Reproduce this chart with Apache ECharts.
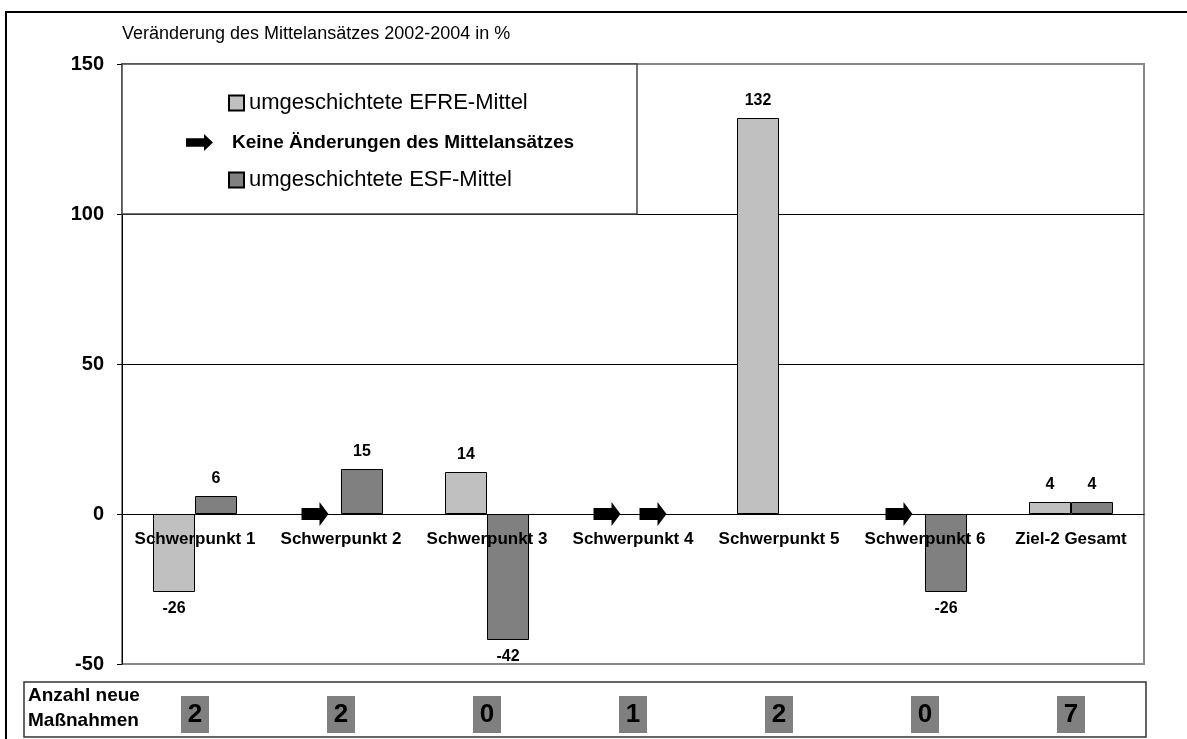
<!DOCTYPE html>
<html>
<head>
<meta charset="utf-8">
<script src="https://cdn.jsdelivr.net/npm/echarts@6/dist/echarts.min.js"></script>
<style>
  html, body { margin: 0; padding: 0; background: #fff; }
  #main { width: 1187px; height: 739px; }
</style>
</head>
<body>
<div id="main"></div>
<script>
var categories = ['Schwerpunkt 1', 'Schwerpunkt 2', 'Schwerpunkt 3', 'Schwerpunkt 4', 'Schwerpunkt 5', 'Schwerpunkt 6', 'Ziel-2 Gesamt'];
var efre = [-26, null, 14, null, 132, null, 4];
var esf = [6, 15, -42, null, null, -26, 4];
// "keine Änderung" arrows: 1 = arrow drawn in that slot
var efreNoChange = [0, 1, 0, 1, 0, 1, 0];
var esfNoChange = [0, 0, 0, 1, 0, 0, 0];
var newMeasures = [2, 2, 0, 1, 2, 0, 7];
var yTicks = [-50, 0, 50, 100, 150];

var FONT = 'Liberation Sans, Arial, sans-serif';
var arrowPath = 'path://M0,6 L18,6 L18,0 L27,12 L18,24 L18,18 L0,18 Z';

function barData(vals) {
    var out = [];
    for (var i = 0; i < vals.length; i++) {
        if (vals[i] == null) { out.push(null); continue; }
        out.push({
            value: vals[i],
            label: { position: vals[i] < 0 ? 'bottom' : 'top' }
        });
    }
    return out;
}

var arrows = [];
for (var i = 0; i < categories.length; i++) {
    if (efreNoChange[i]) arrows.push({ value: [i, 0], symbolOffset: [-26, 0] });
    if (esfNoChange[i]) arrows.push({ value: [i, 0], symbolOffset: [20, 0] });
}

var tableData = [];
for (var j = 0; j < newMeasures.length; j++) {
    tableData.push([j, 0, newMeasures[j]]);
}

var barLabel = {
    show: true,
    distance: 9,
    color: '#000',
    fontFamily: FONT,
    fontWeight: 'bold',
    fontSize: 16
};

// grid 0 spans 64..664 px for -50..150, so 0 sits 150px above the bottom
var zeroOffset = -150;

var option = {
    animation: false,
    backgroundColor: '#fff',
    textStyle: { fontFamily: FONT },
    title: {
        text: 'Veränderung des Mittelansätzes 2002-2004 in %',
        left: 117,
        top: 20,
        textStyle: { fontFamily: FONT, fontSize: 18, fontWeight: 'normal', color: '#000' }
    },
    legend: [
        {
            data: ['umgeschichtete EFRE-Mittel'],
            left: 228, top: 92, padding: 0, z: 20,
            itemWidth: 15, itemHeight: 15, icon: 'rect',
            textStyle: { fontFamily: FONT, fontSize: 22, color: '#000' }
        },
        {
            data: ['Keine Änderungen des Mittelansätzes'],
            left: 186, top: 133, padding: 0, z: 20,
            itemWidth: 27, itemHeight: 17, symbolKeepAspect: false,
            textStyle: { fontFamily: FONT, fontSize: 19, fontWeight: 'bold', color: '#000', padding: [0, 0, 0, 14] }
        },
        {
            data: ['umgeschichtete ESF-Mittel'],
            left: 228, top: 169, padding: 0, z: 20,
            itemWidth: 15, itemHeight: 15, icon: 'rect',
            textStyle: { fontFamily: FONT, fontSize: 22, color: '#000' }
        }
    ],
    grid: [
        { left: 122, right: 43, top: 64, bottom: 75, show: true, borderColor: '#888', borderWidth: 2 },
        { left: 122, right: 43, top: 692, height: 45 }
    ],
    xAxis: [
        {
            type: 'category',
            data: categories,
            z: 10,
            offset: zeroOffset,
            axisLine: { onZero: false, lineStyle: { color: '#000', width: 1 } },
            axisTick: { length: 5, lineStyle: { color: '#000' } },
            axisLabel: { interval: 0, margin: 17, color: '#000', fontFamily: FONT, fontWeight: 'bold', fontSize: 17 }
        },
        {
            type: 'category',
            gridIndex: 1,
            data: categories,
            show: false
        }
    ],
    yAxis: [
        {
            type: 'value',
            min: yTicks[0],
            max: yTicks[yTicks.length - 1],
            interval: 50,
            axisLine: { show: true, lineStyle: { color: '#000' } },
            axisTick: { show: true, length: 5, lineStyle: { color: '#000' } },
            axisLabel: { margin: 18, color: '#000', fontFamily: FONT, fontWeight: 'bold', fontSize: 20 },
            splitLine: { show: true, showMinLine: false, showMaxLine: false, lineStyle: { color: '#000', width: 1 } }
        },
        {
            type: 'value',
            gridIndex: 1,
            min: -1,
            max: 1,
            show: false
        }
    ],
    series: [
        {
            name: 'umgeschichtete EFRE-Mittel',
            type: 'bar',
            data: barData(efre),
            barWidth: 42,
            barGap: '0%',
            itemStyle: { color: '#c0c0c0', borderColor: '#000', borderWidth: 1 },
            label: barLabel
        },
        {
            name: 'Keine Änderungen des Mittelansätzes',
            type: 'scatter',
            data: arrows,
            symbol: arrowPath,
            symbolSize: [27, 24],
            symbolKeepAspect: false,
            z: 5,
            itemStyle: { color: '#000', opacity: 1 }
        },
        {
            name: 'umgeschichtete ESF-Mittel',
            type: 'bar',
            data: barData(esf),
            barWidth: 42,
            barGap: '0%',
            itemStyle: { color: '#808080', borderColor: '#000', borderWidth: 1 },
            label: barLabel
        },
        {
            name: 'Anzahl neue Maßnahmen',
            type: 'scatter',
            xAxisIndex: 1,
            yAxisIndex: 1,
            data: tableData,
            symbol: 'rect',
            symbolSize: [28, 37],
            itemStyle: { color: '#808080', opacity: 1 },
            label: {
                show: true,
                position: 'inside',
                color: '#000',
                fontFamily: FONT,
                fontWeight: 'bold',
                fontSize: 26,
                formatter: function (p) { return p.value[2]; }
            }
        }
    ],
    graphic: [
        {
            type: 'polyline',
            z: 30,
            shape: { points: [[6, 739], [6, 12], [1187, 12]] },
            style: { stroke: '#000', lineWidth: 2, fill: null }
        },
        {
            type: 'rect',
            z: 15,
            shape: { x: 122, y: 64, width: 515, height: 150 },
            style: { fill: '#fff', stroke: '#444', lineWidth: 1.5 }
        },
        {
            type: 'rect',
            z: 15,
            shape: { x: 24, y: 682, width: 1122, height: 55 },
            style: { fill: null, stroke: '#333', lineWidth: 1.5 }
        },
        {
            type: 'text',
            z: 16,
            x: 28,
            y: 683,
            style: {
                text: 'Anzahl neue\nMaßnahmen',
                fontFamily: FONT,
                fontWeight: 'bold',
                fontSize: 19,
                lineHeight: 25,
                fill: '#000',
                verticalAlign: 'top'
            }
        }
    ]
};

var chart = echarts.init(document.getElementById('main'));
chart.setOption(option);
</script>
</body>
</html>
